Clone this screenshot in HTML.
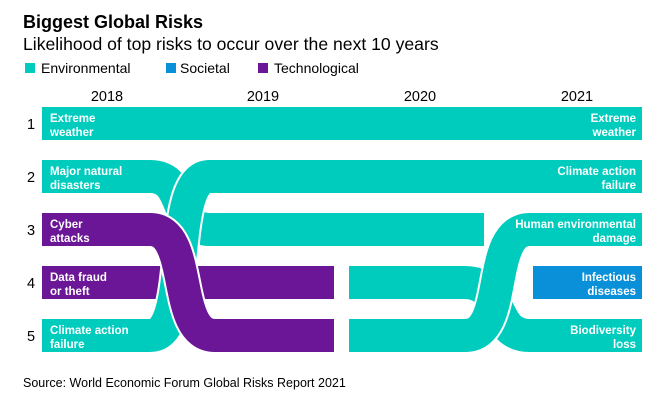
<!DOCTYPE html>
<html><head><meta charset="utf-8"><style>
body{margin:0;background:#fff;width:654px;height:408px;overflow:hidden;font-family:"Liberation Sans",Arial,sans-serif}
</style></head><body>
<svg width="654" height="408" viewBox="0 0 654 408" xmlns="http://www.w3.org/2000/svg" font-family="Liberation Sans, Arial, sans-serif">
<text x="23" y="28" font-size="18" font-weight="bold" fill="#000">Biggest Global Risks</text>
<text x="23" y="50" font-size="17.6" fill="#000">Likelihood of top risks to occur over the next 10 years</text>
<rect x="25" y="63" width="10" height="10" fill="#00CCBE"/>
<text x="41" y="73" font-size="14" fill="#000">Environmental</text>
<rect x="166" y="63" width="10" height="10" fill="#0A90D8"/>
<text x="180" y="73" font-size="14" fill="#000">Societal</text>
<rect x="258" y="63" width="10" height="10" fill="#6B1696"/>
<text x="274" y="73" font-size="14" fill="#000">Technological</text>

<g font-size="14.5" fill="#000" text-anchor="middle">
<text x="107" y="101">2018</text><text x="263" y="101">2019</text><text x="420" y="101">2020</text><text x="577" y="101">2021</text>
<text x="31" y="129">1</text><text x="31" y="182">2</text><text x="31" y="235">3</text><text x="31" y="288">4</text><text x="31" y="341">5</text>
</g>

<rect x="42" y="107" width="600" height="33" fill="#00CCBE"/>
<g fill="none" stroke-linecap="butt">
<path d="M42 282.5 H334" stroke="#6B1696" stroke-width="33"/>
<path d="M42 176.5 H150 C188 176.5 172 229.5 210 229.5 H484" stroke="#fff" stroke-width="37"/>
<path d="M42 176.5 H150 C188 176.5 172 229.5 210 229.5 H484" stroke="#00CCBE" stroke-width="33"/>
<path d="M42 335.5 H150 C194 335.5 166 176.5 210 176.5 H642" stroke="#fff" stroke-width="37"/>
<path d="M42 335.5 H150 C194 335.5 166 176.5 210 176.5 H642" stroke="#00CCBE" stroke-width="33"/>
<path d="M42 229.5 H150 C194 229.5 171 335.5 215 335.5 H334" stroke="#fff" stroke-width="37"/>
<path d="M42 229.5 H150 C194 229.5 171 335.5 215 335.5 H334" stroke="#6B1696" stroke-width="33"/>

<path d="M349 282.5 H465 C505 282.5 490 335.5 530 335.5 H642" stroke="#00CCBE" stroke-width="33"/>
<path d="M349 335.5 H465 C510 335.5 485 229.5 530 229.5 H642" stroke="#fff" stroke-width="37"/>
<path d="M349 335.5 H465 C510 335.5 485 229.5 530 229.5 H642" stroke="#00CCBE" stroke-width="33"/>
</g>
<rect x="642" y="150" width="12" height="210" fill="#fff"/>
<rect x="533" y="266" width="109" height="33" fill="#0A90D8"/>

<g font-size="11.5" font-weight="bold" fill="#fff">
<text x="50" y="122">Extreme</text><text x="50" y="136">weather</text>
<text x="50" y="175">Major natural</text><text x="50" y="189">disasters</text>
<text x="50" y="228">Cyber</text><text x="50" y="242">attacks</text>
<text x="50" y="281">Data fraud</text><text x="50" y="295">or theft</text>
<text x="50" y="334">Climate action</text><text x="50" y="348">failure</text>
</g>
<g font-size="11.5" font-weight="bold" fill="#fff" text-anchor="end">
<text x="636" y="122">Extreme</text><text x="636" y="136">weather</text>
<text x="636" y="175">Climate action</text><text x="636" y="189">failure</text>
<text x="636" y="228">Human environmental</text><text x="636" y="242">damage</text>
<text x="636" y="281">Infectious</text><text x="636" y="295">diseases</text>
<text x="636" y="334">Biodiversity</text><text x="636" y="348">loss</text>
</g>
<text x="23" y="387" font-size="12.5" fill="#000">Source: World Economic Forum Global Risks Report 2021</text>
</svg>
</body></html>
